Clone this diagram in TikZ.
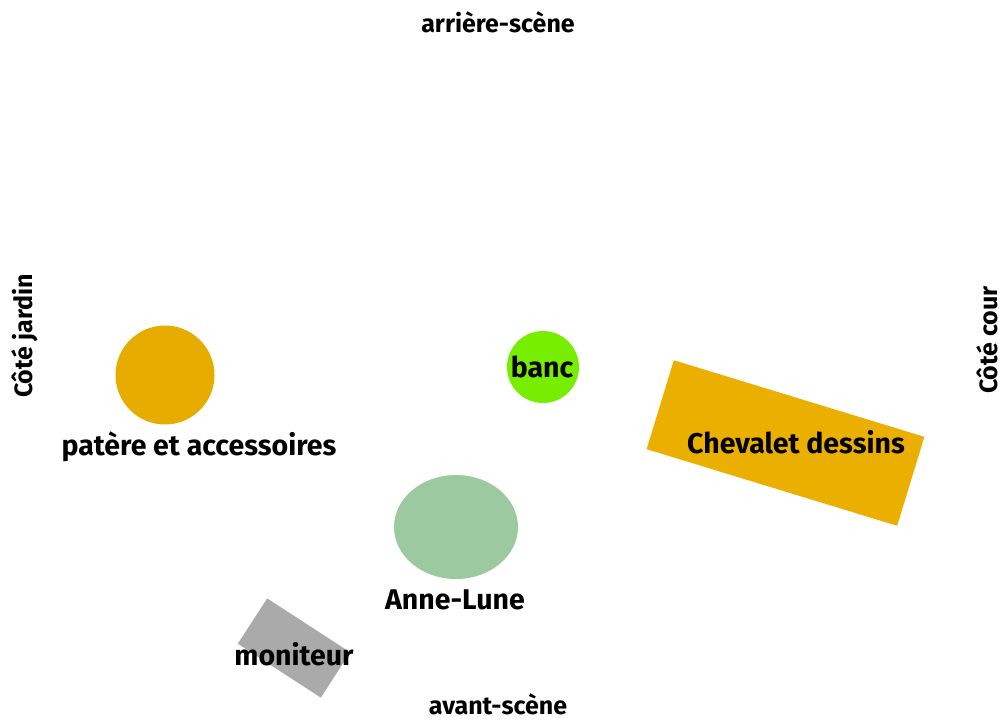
\documentclass[tikz,border=0pt]{standalone}
\usepackage{fontspec}
\setmainfont{Fira Sans}
\usetikzlibrary{shapes.geometric}
\definecolor{gold}{HTML}{E6AD00}
\definecolor{gold2}{HTML}{EBAF00}
\definecolor{bgreen}{HTML}{77EE00}
\definecolor{sage}{HTML}{9DC9A0}
\definecolor{mgray}{HTML}{AAAAAA}
\tikzset{
  lbl/.style={font=\bfseries\fontsize{28.5}{32}\selectfont, inner sep=0pt, text=black},
  side/.style={font=\bfseries\fontsize{25}{29}\selectfont, inner sep=0pt, text=black},
}
\begin{document}
\begin{tikzpicture}[x=1pt,y=-1pt]
\useasboundingbox (0,0) rectangle (1003,721);
% shapes
\node[circle, fill=gold, minimum size=99pt, inner sep=0pt] (patere) at (165,375) {};
\node[circle, fill=bgreen, minimum size=72pt, inner sep=0pt] (bancs) at (543,367) {};
\node[rectangle, fill=gold2, minimum width=262pt, minimum height=93pt, rotate=-17, inner sep=0pt] (chev) at (785.5,443) {};
\node[ellipse, fill=sage, minimum width=124pt, minimum height=104pt, inner sep=0pt] (anne) at (456,527) {};
\node[rectangle, fill=mgray, minimum width=99pt, minimum height=54pt, rotate=-33, inner sep=0pt] (moni) at (294,648) {};
% labels
\node[side] (arr) at (498,22) {arrière-scène};
\node[side] (avant) at (498,704) {avant-scène};
\node[side, rotate=90] (jardin) at (25,336) {Côté jardin};
\node[side, rotate=90] (cour) at (987,340) {Côté cour};
\node[lbl] (lpat) at (199,447) {patère et accessoires};
\node[lbl] (lbanc) at (542,367) {banc};
\node[lbl] (lchev) at (796,442) {Chevalet dessins};
\node[lbl] (lanne) at (455,600) {Anne-Lune};
\node[lbl] (lmoni) at (294,654) {moniteur};
\end{tikzpicture}
\end{document}
